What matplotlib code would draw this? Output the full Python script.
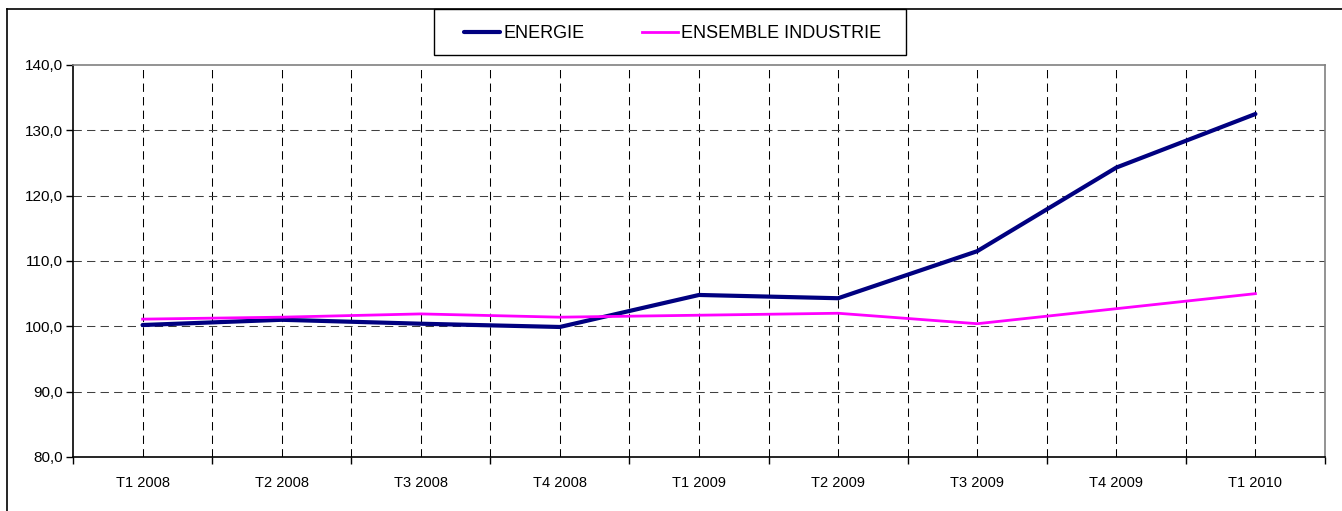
import matplotlib
matplotlib.use("Agg")
import matplotlib.pyplot as plt
import numpy as np
from matplotlib.lines import Line2D
from matplotlib.patches import Rectangle

plt.rcParams['font.family'] = ['Liberation Sans', 'DejaVu Sans']

quarters = ['T1 2008', 'T2 2008', 'T3 2008', 'T4 2008', 'T1 2009',
            'T2 2009', 'T3 2009', 'T4 2009', 'T1 2010']
energie = [100.2, 101.0, 100.4, 99.9, 104.8, 104.3, 111.5, 124.3, 132.5]
industrie = [101.1, 101.4, 101.9, 101.4, 101.7, 102.0, 100.4, 102.7, 105.0]
y_ticks = [80, 90, 100, 110, 120, 130, 140]

fig = plt.figure(figsize=(13.42, 5.11), dpi=100)
ax = fig.add_axes([0.0544, 0.1057, 0.9329, 0.7671])

x = np.arange(len(quarters)) + 0.5
ax.plot(x, energie, color='#000080', lw=3, solid_capstyle='round',
        solid_joinstyle='round', zorder=3, label='ENERGIE')
ax.plot(x, industrie, color='#FF00FF', lw=2, solid_joinstyle='round',
        zorder=3, label='ENSEMBLE INDUSTRIE')

ax.set_xlim(0, len(quarters))
ax.set_ylim(80, 140)

# grid: dashed lines at every category centre and boundary
dash = (0, (8, 5))
for xv in np.arange(0.5, len(quarters), 0.5):
    ax.axvline(xv, color='black', lw=0.75, ls=dash, zorder=1)
for yv in y_ticks[1:-1]:
    ax.axhline(yv, color='#404040', lw=0.75, ls=dash, zorder=1)

ax.set_yticks(y_ticks)
ax.set_yticklabels([('%.1f' % v).replace('.', ',') for v in y_ticks])
ax.set_xticks(np.arange(0, len(quarters) + 1))
ax.set_xticklabels([])
ax.set_xticks(x, minor=True)
ax.set_xticklabels(quarters, minor=True)
ax.tick_params(axis='x', which='major', direction='out', length=5, width=1)
ax.tick_params(axis='x', which='minor', length=0, pad=14, labelsize=10.5)
ax.tick_params(axis='y', direction='out', length=5, width=1, labelsize=11, pad=2)

ax.spines['left'].set_color('black')
ax.spines['bottom'].set_color('black')
ax.spines['top'].set_color('#808080')
ax.spines['right'].set_color('#808080')
for s in ax.spines.values():
    s.set_linewidth(1.2)

# legend without its own frame, box drawn separately
leg = fig.legend(loc='center', bbox_to_anchor=(0.5012, 0.9345), ncol=2,
                 fontsize=13, frameon=False,
                 handlelength=2.0, handletextpad=0.15, columnspacing=3.2,
                 borderpad=0, borderaxespad=0)
fig.add_artist(Rectangle((434 / 1342, 1 - 55 / 511), 472 / 1342, 46 / 511,
                         transform=fig.transFigure, fill=False,
                         edgecolor='black', lw=1.0))

# outer chart border (top and left visible)
top = 1 - 9 / 511
left = 7 / 1342
fig.add_artist(Line2D([left, 1.0], [top, top], color='black', lw=1.2,
                      transform=fig.transFigure))
fig.add_artist(Line2D([left, left], [0, top], color='black', lw=1.2,
                      transform=fig.transFigure))

fig.savefig('out.png', dpi=100)
